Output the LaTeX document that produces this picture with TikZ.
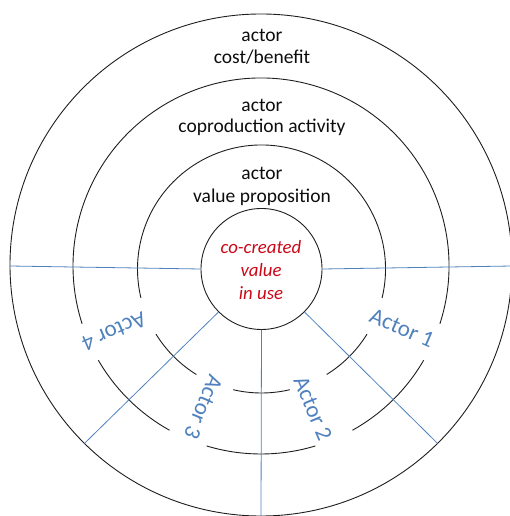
\documentclass[tikz,border=0pt]{standalone}
\usepackage{fontspec}
\setmainfont{Carlito}
\usetikzlibrary{calc}
\definecolor{ringline}{RGB}{30,30,30}
\definecolor{actorblue}{RGB}{79,129,189}
\definecolor{valuered}{RGB}{204,8,24}
\begin{document}
\begin{tikzpicture}[x=1pt,y=1pt,
  ring/.style={draw=ringline, line width=0.9pt},
  divider/.style={draw=actorblue, line width=0.8pt},
  layertext/.style={anchor=base, inner sep=0pt, font=\fontsize{19.5}{22}\selectfont, text=black!95},
  valuetext/.style={anchor=base, inner sep=0pt, font=\fontsize{18.8}{23}\selectfont\itshape, text=valuered},
  actorlabel/.style={inner sep=0pt, font=\fontsize{23}{26}\selectfont, text=actorblue}
]
\useasboundingbox (0,0) rectangle (509,516);

% ring centres
\coordinate (o3) at (261,251);
\coordinate (o2) at (261,250);
\coordinate (o1) at (261.5,247);

% outer ring: actor cost/benefit
\draw[ring] (o3) circle[radius=251];

% middle ring: actor coproduction activity, broken by the actor labels
\draw[ring] ($(o2)+(-17.9:188)$) arc[start angle=-17.9, end angle=197.9, radius=188];
\draw[ring] ($(o2)+(210.1:188)$) arc[start angle=210.1, end angle=240.9, radius=188];
\draw[ring] ($(o2)+(253.2:188)$) arc[start angle=253.2, end angle=286.8, radius=188];
\draw[ring] ($(o2)+(299.1:188)$) arc[start angle=299.1, end angle=329.9, radius=188];

% inner ring: actor value proposition, broken by the actor labels
\draw[ring] ($(o1)+(-13.5:124)$) arc[start angle=-13.5, end angle=193.5, radius=124];
\draw[ring] ($(o1)+(211.7:124)$) arc[start angle=211.7, end angle=238.3, radius=124];
\draw[ring] ($(o1)+(256.8:124)$) arc[start angle=256.8, end angle=283.2, radius=124];
\draw[ring] ($(o1)+(301.7:124)$) arc[start angle=301.7, end angle=328.3, radius=124];

% core circle
\node[circle, ring, minimum size=121pt, inner sep=0pt] (core) at (o1) {};

% rim points where the sector dividers end
\coordinate (rimW)  at ($(o3)+(180.23:251)$);
\coordinate (rimE)  at ($(o3)+(-0.23:251)$);
\coordinate (rimSW) at ($(o3)+(225.3:251)$);
\coordinate (rimS)  at ($(o3)+(270:251)$);
\coordinate (rimSE) at ($(o3)+(-45.3:251)$);

% sector dividers
\draw[divider] (core.west) -- (rimW);
\draw[divider] (core.east) -- (rimE);
\draw[divider] (core.225) -- (rimSW);
\draw[divider] (core.south) -- (rimS);
\draw[divider] (core.-45) -- (rimSE);

% layer captions
\node[layertext] (costA) at (262,474) {actor};
\node[layertext] (costB) at (262,452) {cost/benefit};
\node[layertext] (coprodA) at (262,404) {actor};
\node[layertext] (coprodB) at (262,383) {coproduction activity};
\node[layertext] (propA) at (262,336) {actor};
\node[layertext] (propB) at (262,313) {value proposition};

% core caption
\node[valuetext] (valA) at (261,262) {co-created};
\node[valuetext] (valB) at (261,239) {value};
\node[valuetext] (valC) at (261,216) {in use};

% actor sector labels, set radially
\node[actorlabel, rotate=-23.3] (actor1) at (402,188) {Actor 1};
\node[actorlabel, rotate=-67.3] (actor2) at (313,107.5) {Actor 2};
\node[actorlabel, rotate=247.3] (actor3) at (203.5,109) {Actor 3};
\node[actorlabel, rotate=203.3] (actor4) at (114,184.5) {Actor 4};
\end{tikzpicture}
\end{document}
